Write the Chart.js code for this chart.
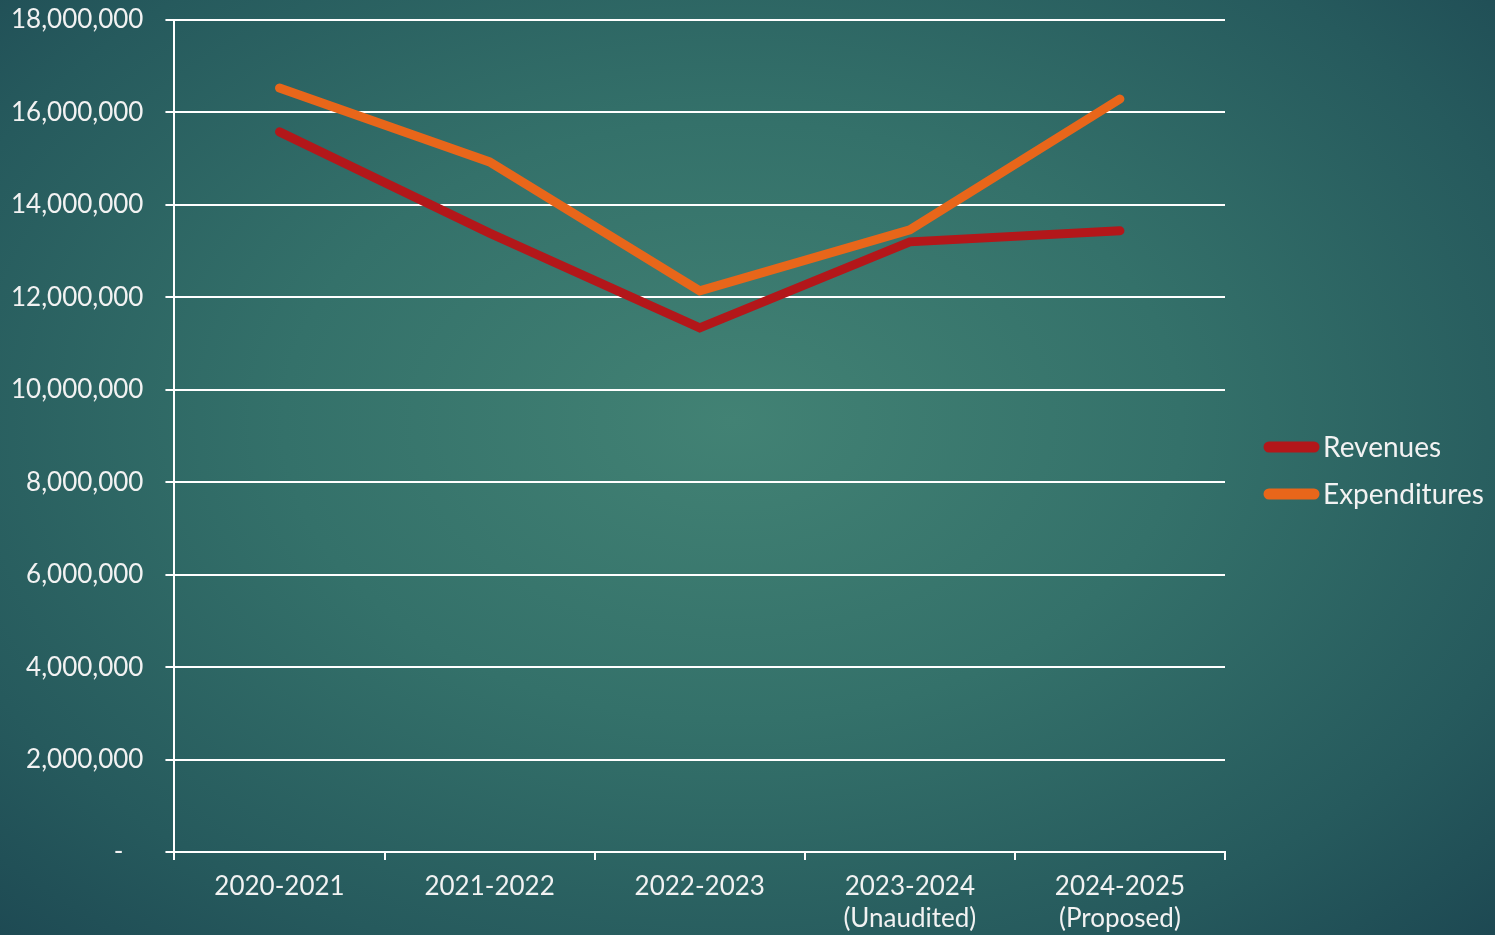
<!DOCTYPE html>
<html lang="en">
<head>
<meta charset="UTF-8" />
<title>Revenues vs Expenditures</title>
<script src="https://cdn.jsdelivr.net/npm/chart.js"></script>
<style>
  html, body { margin: 0; padding: 0; }
  body {
    width: 1495px; height: 935px; overflow: hidden;
    background: radial-gradient(ellipse 75% 80% at 49% 45%, #428274 0%, #34716a 40%, #265a5d 75%, #1c4651 100%);
  }
  #wrap { position: relative; width: 1495px; height: 935px; }
</style>
</head>
<body>
<div id="wrap"><canvas id="chart"></canvas></div>
<script>
  const categories = ["2020-2021", "2021-2022", "2022-2023", ["2023-2024", "(Unaudited)"], ["2024-2025", "(Proposed)"]];
  const revenues = [15580000, 13390000, 11340000, 13200000, 13440000];
  const expenditures = [16530000, 14930000, 12140000, 13460000, 16290000];
  const yTicks = [0, 2000000, 4000000, 6000000, 8000000, 10000000, 12000000, 14000000, 16000000, 18000000];

  const textColor = "#f2f2f2";
  const fontFamily = "Lato, 'Open Sans', sans-serif";

  // legend drawn by hand to the right of the plot, like the slide
  const sideLegend = {
    id: "sideLegend",
    afterDraw(chart) {
      const ctx = chart.ctx;
      ctx.save();
      ctx.font = "28px " + fontFamily;
      ctx.textBaseline = "middle";
      ctx.fillStyle = textColor;
      chart.data.datasets.forEach((ds, i) => {
        const y = 447 + i * 47;
        ctx.beginPath();
        ctx.strokeStyle = ds.borderColor;
        ctx.lineWidth = 11;
        ctx.lineCap = "round";
        ctx.moveTo(1269, y);
        ctx.lineTo(1314, y);
        ctx.stroke();
        ctx.fillText(ds.label, 1323, y + 1);
      });
      ctx.restore();
    }
  };

  new Chart(document.getElementById("chart"), {
    type: "line",
    data: {
      labels: categories,
      datasets: [
        { label: "Revenues", data: revenues, borderColor: "#b3171a", backgroundColor: "#b3171a" },
        { label: "Expenditures", data: expenditures, borderColor: "#e8661a", backgroundColor: "#e8661a" }
      ]
    },
    options: {
      responsive: true,
      maintainAspectRatio: false,
      animation: false,
      layout: { padding: { top: 20, left: -11, right: 270, bottom: -11 } },
      elements: {
        line: { borderWidth: 9, tension: 0, borderCapStyle: "round", borderJoinStyle: "miter" },
        point: { radius: 0, hoverRadius: 0 }
      },
      scales: {
        x: {
          offset: true,
          grid: { display: true, drawOnChartArea: false, drawTicks: true, tickLength: 8, color: "#ffffff", lineWidth: 2, offset: true },
          border: { display: true, color: "#ffffff", width: 2 },
          ticks: { color: textColor, font: { family: fontFamily, size: 26, lineHeight: 1.23 }, padding: 11, maxRotation: 0, autoSkip: false }
        },
        y: {
          min: 0, max: 18000000,
          afterBuildTicks: axis => { axis.ticks = yTicks.map(v => ({ value: v })); },
          afterFit: axis => { axis.paddingTop = 0; },
          grid: { color: "#ffffff", lineWidth: 2, tickLength: 9, drawTicks: true },
          border: { display: true, color: "#ffffff", width: 2 },
          ticks: {
            color: textColor, font: { family: fontFamily, size: 26 }, padding: 22,
            callback: v => v === 0 ? "-\u00A0\u00A0\u00A0" : v.toLocaleString("en-US")
          }
        }
      },
      plugins: {
        tooltip: { enabled: false },
        legend: { display: false }
      }
    },
    plugins: [sideLegend]
  });
</script>
</body>
</html>
